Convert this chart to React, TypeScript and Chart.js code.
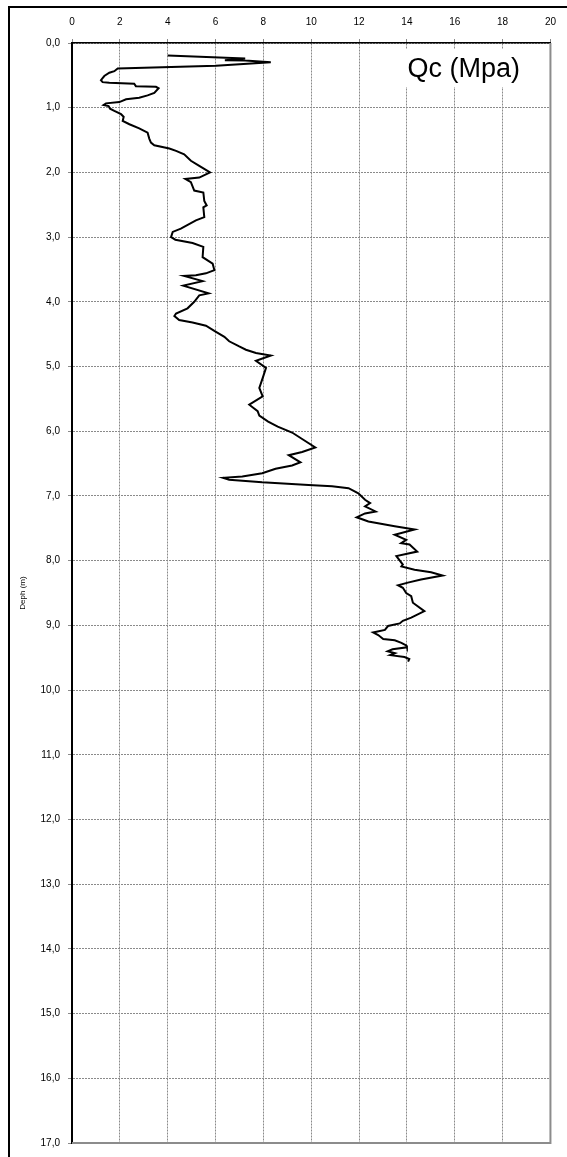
import React, { useEffect, useRef } from 'react';
import { Chart, registerables } from 'chart.js';

Chart.register(...registerables);

// Depth (m) of each reading, top to bottom
const depthM = [
  0.195, 0.24, 0.265, 0.27, 0.297, 0.35, 0.395, 0.436, 0.46, 0.51,
  0.574, 0.605, 0.615, 0.63, 0.667, 0.677, 0.70, 0.77, 0.81, 0.846,
  0.87, 0.913, 0.933, 0.959, 0.974, 1.015, 1.05, 1.10, 1.14, 1.205,
  1.256, 1.32, 1.385, 1.477, 1.54, 1.58, 1.63, 1.667, 1.72, 1.82,
  1.90, 2.0, 2.08, 2.10, 2.15, 2.28, 2.31, 2.44, 2.51, 2.54,
  2.69, 2.74, 2.87, 2.92, 3.0, 3.04, 3.09, 3.15, 3.31, 3.41,
  3.51, 3.56, 3.59, 3.60, 3.68, 3.75, 3.87, 3.90, 4.0, 4.10,
  4.18, 4.22, 4.28, 4.32, 4.37, 4.45, 4.54, 4.61, 4.69, 4.74,
  4.79, 4.83, 4.91, 5.02, 5.18, 5.33, 5.46, 5.59, 5.69, 5.76,
  5.85, 5.93, 6.02, 6.12, 6.25, 6.32, 6.37, 6.48, 6.53, 6.58,
  6.65, 6.70, 6.72, 6.75, 6.79, 6.83, 6.85, 6.88, 6.96, 7.06,
  7.11, 7.16, 7.24, 7.27, 7.33, 7.395, 7.47, 7.52, 7.60, 7.68,
  7.73, 7.75, 7.86, 7.93, 8.06, 8.09, 8.14, 8.18, 8.23, 8.29,
  8.34, 8.38, 8.42, 8.50, 8.55, 8.65, 8.78, 8.88, 8.93, 8.97,
  9.01, 9.07, 9.11, 9.15, 9.21, 9.23, 9.27, 9.31, 9.34, 9.37,
  9.40, 9.43, 9.46, 9.49, 9.52, 9.56,
];

// Cone resistance Qc (MPa) at each depth
const qcMpa = [
  4.0, 7.24, 6.39, 7.24, 8.31, 6.02, 1.91, 1.77, 1.56, 1.35,
  1.21, 1.28, 1.56, 2.60, 2.67, 3.51, 3.62, 3.44, 3.16, 2.81,
  2.26, 1.98, 1.42, 1.32, 1.53, 1.59, 1.77, 2.05, 2.16, 2.12,
  2.40, 2.81, 3.16, 3.23, 3.30, 3.44, 4.07, 4.35, 4.69, 4.97,
  5.32, 5.77, 5.32, 4.74, 4.97, 5.11, 5.49, 5.53, 5.63, 5.49,
  5.53, 5.18, 4.55, 4.21, 4.14, 4.32, 5.04, 5.49, 5.46, 5.88,
  5.95, 5.60, 5.18, 4.69, 5.46, 4.65, 5.71, 5.32, 5.11, 4.83,
  4.35, 4.28, 4.48, 5.04, 5.60, 5.95, 6.37, 6.57, 6.99, 7.27,
  7.69, 8.31, 7.69, 8.11, 7.97, 7.83, 7.97, 7.41, 7.76, 7.83,
  8.20, 8.60, 9.20, 9.62, 10.17, 9.62, 9.06, 9.55, 9.20, 8.51,
  7.95, 7.12, 6.32, 6.57, 7.95, 9.89, 10.87, 11.56, 11.97, 12.25,
  12.46, 12.25, 12.69, 12.25, 11.90, 12.39, 13.49, 14.32, 13.49, 13.97,
  13.76, 14.11, 14.43, 13.56, 13.83, 13.77, 14.32, 15.01, 15.49, 14.59,
  14.04, 13.63, 13.83, 13.97, 14.18, 14.25, 14.73, 14.18, 13.83, 13.70,
  13.21, 13.08, 12.59, 12.80, 13.01, 13.49, 13.77, 13.97, 14.0, 13.4,
  13.2, 13.5, 13.3, 13.9, 14.1, 14.05,
];

const xMin = 0;
const xMax = 20;
const xStep = 2;
const yMin = 0;
const yMax = 17;
const yStep = 1;
const chartTitle = 'Qc (Mpa)';
const yAxisTitle = 'Deph (m)';

const FONT = "'Liberation Sans', Arial, sans-serif";

export default function App() {
  const canvasRef = useRef<HTMLCanvasElement>(null);

  useEffect(() => {
    const canvas = canvasRef.current;
    if (!canvas) return;

    const points = depthM.map((d, i) => ({ x: qcMpa[i], y: d }));

    const framePlugin = {
      id: 'frameAndTitle',
      beforeDatasetsDraw(chart: any) {
        const { ctx, chartArea } = chart;
        const { left, right, top, bottom } = chartArea;
        ctx.save();
        // right and bottom grey frame
        ctx.strokeStyle = '#8c8c8c';
        ctx.lineWidth = 2;
        ctx.beginPath();
        ctx.moveTo(right, top);
        ctx.lineTo(right, bottom);
        ctx.lineTo(left, bottom);
        ctx.stroke();
        // title box
        ctx.fillStyle = '#ffffff';
        ctx.fillRect(right - 151, top + 6, 128, 38);
        ctx.fillStyle = '#000000';
        ctx.font = `27px ${FONT}`;
        ctx.textAlign = 'left';
        ctx.textBaseline = 'middle';
        ctx.fillText(chartTitle, right - 143, top + 27);
        ctx.restore();
      },
    };

    const chart = new Chart(canvas, {
      type: 'scatter',
      data: {
        datasets: [
          {
            data: points,
            showLine: true,
            borderColor: '#000000',
            borderWidth: 2,
            pointRadius: 0,
            pointHoverRadius: 0,
            fill: false,
            tension: 0,
          },
        ],
      },
      options: {
        animation: false,
        responsive: false,
        devicePixelRatio: 1,
        layout: { padding: { left: 0, top: 0, right: 14, bottom: 7 } },
        plugins: {
          legend: { display: false },
          tooltip: { enabled: false },
          title: { display: false },
        },
        scales: {
          x: {
            type: 'linear',
            position: 'top',
            min: xMin,
            max: xMax,
            ticks: {
              stepSize: xStep,
              padding: 11,
              color: '#000000',
              font: { family: FONT, size: 10 },
            },
            grid: {
              color: '#8a8a8a',
              lineWidth: 1,
              tickLength: 4,
              tickColor: '#8a8a8a',
            },
            border: { color: '#000000', width: 1.5, dash: [2, 1] },
            afterFit(scale: any) {
              scale.height = 43;
            },
          },
          y: {
            type: 'linear',
            reverse: true,
            min: yMin,
            max: yMax,
            ticks: {
              stepSize: yStep,
              padding: 8,
              color: '#000000',
              font: { family: FONT, size: 10 },
              callback: (v: any) => Number(v).toFixed(1).replace('.', ','),
            },
            grid: {
              color: '#8a8a8a',
              lineWidth: 1,
              tickLength: 4,
              tickColor: '#8a8a8a',
            },
            border: { color: '#000000', width: 2, dash: [2, 1] },
            title: {
              display: true,
              text: yAxisTitle,
              color: '#000000',
              font: { family: FONT, size: 8 },
              padding: { top: 18, bottom: 0 },
            },
            afterFit(scale: any) {
              scale.width = 72;
            },
          },
        },
      },
      plugins: [framePlugin],
    });

    return () => chart.destroy();
  }, []);

  return (
    <div
      style={{
        position: 'absolute',
        left: 0,
        top: 0,
        width: 567,
        height: 1157,
        overflow: 'hidden',
        background: '#ffffff',
      }}
    >
      <canvas
        ref={canvasRef}
        width={567}
        height={1157}
        style={{ position: 'absolute', left: 0, top: 0, width: 567, height: 1157 }}
      />
      <div
        style={{
          position: 'absolute',
          left: 8,
          top: 6,
          width: 700,
          height: 1300,
          borderLeft: '2px solid #000',
          borderTop: '2px solid #000',
          pointerEvents: 'none',
        }}
      />
    </div>
  );
}
